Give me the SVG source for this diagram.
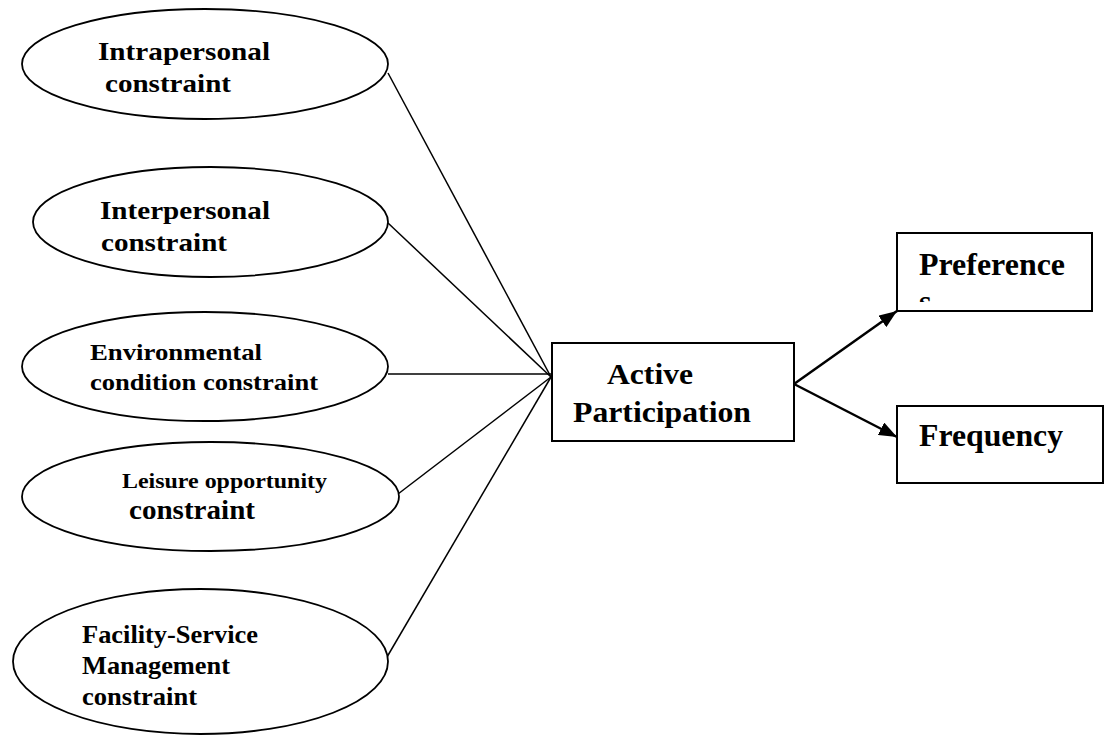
<svg xmlns="http://www.w3.org/2000/svg" width="1106" height="735" viewBox="0 0 1106 735">
<style>
.n{fill:#fff;stroke:#000;stroke-width:1.8}
.b{fill:#fff;stroke:#000;stroke-width:2}
text{font-family:'Liberation Serif',serif;font-weight:700;fill:#000}
.c{stroke:#000;stroke-width:1.5;fill:none}
.a{stroke:#000;stroke-width:2.5;fill:none}
</style>
<defs>
<marker id="arr" markerUnits="userSpaceOnUse" markerWidth="20" markerHeight="14" refX="18" refY="7" orient="auto">
<path d="M0,0 L18,7 L0,14 z" fill="#000"/>
</marker>
<clipPath id="pclip"><rect x="898" y="234" width="193" height="68"/></clipPath>
</defs>
<g id="connectors">
<line class="c" x1="388" y1="73" x2="551" y2="377"/>
<line class="c" x1="388" y1="223" x2="551" y2="377"/>
<line class="c" x1="388" y1="374" x2="551" y2="374"/>
<line class="c" x1="398" y1="494" x2="551" y2="377"/>
<line class="c" x1="387" y1="657" x2="551" y2="377"/>
<line class="a" x1="794" y1="384" x2="897" y2="311" marker-end="url(#arr)"/>
<line class="a" x1="794" y1="384" x2="897" y2="437" marker-end="url(#arr)"/>
</g>
<g id="intrapersonal" font-family="Liberation Serif, serif" font-weight="bold">
<ellipse class="n" cx="205" cy="64" rx="183" ry="55"/>
<text font-size="26" x="98" y="60" textLength="172" lengthAdjust="spacingAndGlyphs">Intrapersonal</text>
<text font-size="26" x="105" y="92" textLength="126" lengthAdjust="spacingAndGlyphs">constraint</text>
</g>
<g id="interpersonal">
<ellipse class="n" cx="210.5" cy="222" rx="177.5" ry="55"/>
<text font-size="26" x="100" y="219" textLength="170" lengthAdjust="spacingAndGlyphs">Interpersonal</text>
<text font-size="26" x="101" y="251" textLength="126" lengthAdjust="spacingAndGlyphs">constraint</text>
</g>
<g id="environmental">
<ellipse class="n" cx="205" cy="366.5" rx="183" ry="54.5"/>
<text font-size="24" x="90" y="360" textLength="172" lengthAdjust="spacingAndGlyphs">Environmental</text>
<text font-size="24" x="90" y="390" textLength="228" lengthAdjust="spacingAndGlyphs">condition constraint</text>
</g>
<g id="leisure">
<ellipse class="n" cx="210.5" cy="496.5" rx="188.5" ry="54.5"/>
<text font-size="22" x="122" y="488" textLength="205" lengthAdjust="spacingAndGlyphs">Leisure opportunity</text>
<text font-size="27" x="129" y="519" textLength="126" lengthAdjust="spacingAndGlyphs">constraint</text>
</g>
<g id="facility">
<ellipse class="n" cx="200.5" cy="661.5" rx="187.5" ry="72.5"/>
<text font-size="25" x="82" y="643" textLength="176" lengthAdjust="spacingAndGlyphs">Facility-Service</text>
<text font-size="25" x="82" y="674" textLength="148" lengthAdjust="spacingAndGlyphs">Management</text>
<text font-size="25" x="82" y="705" textLength="115" lengthAdjust="spacingAndGlyphs">constraint</text>
</g>
<g id="active">
<rect class="b" x="552" y="343" width="242" height="98"/>
<text font-size="30" x="607" y="384" textLength="86" lengthAdjust="spacingAndGlyphs">Active</text>
<text font-size="30" x="573" y="422" textLength="178" lengthAdjust="spacingAndGlyphs">Participation</text>
</g>
<g id="preferences">
<rect class="b" x="897" y="233" width="195" height="78"/>
<text font-size="32" x="919" y="275" textLength="146" lengthAdjust="spacingAndGlyphs">Preference</text>
<text font-size="32" x="919" y="312" clip-path="url(#pclip)">s</text>
</g>
<g id="frequency">
<rect class="b" x="897" y="406" width="206" height="77"/>
<text font-size="32" x="919" y="446" textLength="144" lengthAdjust="spacingAndGlyphs">Frequency</text>
</g>
</svg>
